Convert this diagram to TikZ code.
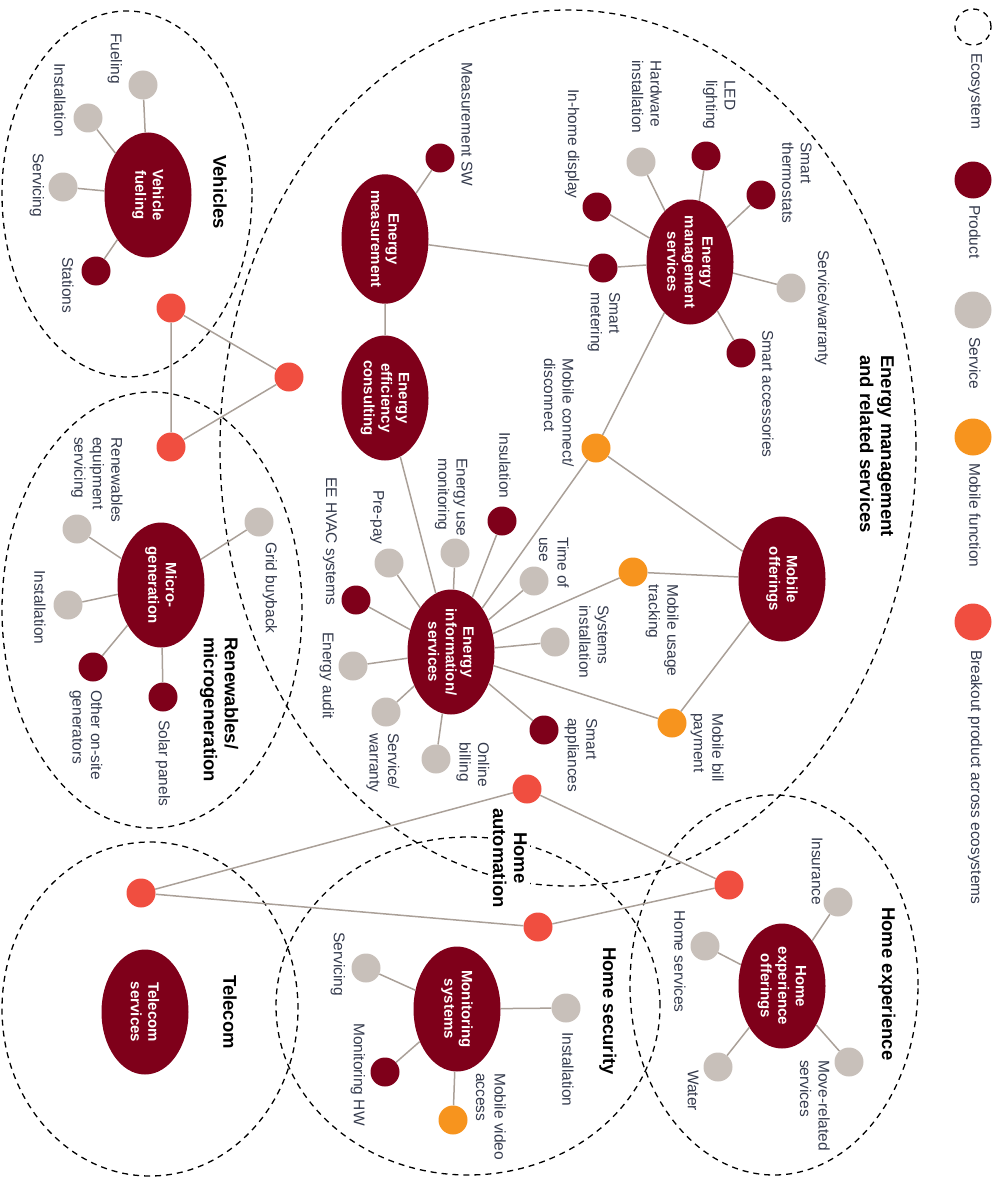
\documentclass[tikz,border=0pt]{standalone}
\usepackage{fontspec}
\setmainfont{Liberation Sans}
\usetikzlibrary{shapes.geometric}
\definecolor{hubred}{RGB}{127,0,26}
\definecolor{servgray}{RGB}{200,192,186}
\definecolor{mobor}{RGB}{247,148,30}
\definecolor{brkred}{RGB}{240,78,64}
\definecolor{edgegray}{RGB}{170,160,152}
\definecolor{lbltxt}{RGB}{52,58,76}
\tikzstyle{hubnode} = [ellipse, fill=hubred, text=white, rotate=-90, minimum width=125pt, minimum height=87pt, inner sep=-3pt, align=center, font=\bfseries\fontsize{15}{17.5}\selectfont]
\tikzstyle{dotnode} = [circle, minimum size=29pt, inner sep=0pt]
\tikzstyle{proddot} = [dotnode, fill=hubred]
\tikzstyle{servdot} = [dotnode, fill=servgray]
\tikzstyle{mobdot} = [dotnode, fill=mobor]
\tikzstyle{brkdot} = [dotnode, fill=brkred]
\tikzstyle{lbltext} = [rotate=-90, anchor=west, inner sep=0pt, align=left, text=lbltxt, font=\fontsize{15.5}{18.5}\selectfont]
\tikzstyle{ttltext} = [rotate=-90, anchor=west, inner sep=0pt, align=left, font=\bfseries\fontsize{18.5}{21}\selectfont]
\tikzstyle{ecoline} = [dash pattern=on 6pt off 5pt, line width=1.3pt]
\tikzstyle{edgeline} = [draw=edgegray, line width=1.5pt]

\begin{document}
\begin{tikzpicture}[x=1pt, y=-1pt]
\useasboundingbox (0,0) rectangle (999,1180);

\draw[ecoline] (127,194) ellipse [x radius=125pt, y radius=183pt];
\draw[ecoline] (568,448) ellipse [x radius=348pt, y radius=438pt];
\draw[ecoline] (152,610) ellipse [x radius=150pt, y radius=218pt];
\draw[ecoline] (150,1009) ellipse [x radius=148pt, y radius=167pt];
\draw[ecoline] (468,1006) ellipse [x radius=192pt, y radius=169pt];
\draw[ecoline] (774,985) ellipse [x radius=144pt, y radius=190pt];

\node[hubnode] (vfuel) at (148,195) {Vehicle\\fueling};
\node[servdot] (fuel) at (143,85) {};
\node[servdot] (vinst) at (88,118) {};
\node[servdot] (vserv) at (63,187) {};
\node[proddot] (stat) at (96,271) {};
\node[lbltext] (fuell) at (115,33) {Fueling};
\node[lbltext] (vinstl) at (60,63) {Installation};
\node[lbltext] (vservl) at (37,153) {Servicing};
\node[lbltext] (statl) at (68,257) {Stations};
\node[ttltext] (vehttl) at (220,155) {Vehicles};

\node[brkdot] (brka) at (171,308) {};
\node[brkdot] (brkb) at (289,377) {};
\node[brkdot] (brkc) at (171,447) {};

\node[hubnode] (emeas) at (385,239) {Energy\\measurement};
\node[hubnode] (econs) at (385,398) {Energy\\efficiency\\consulting};
\node[hubnode] (emgmt) at (690,262) {Energy\\management\\services};
\node[hubnode] (mobo) at (782,579) {Mobile\\offerings};
\node[hubnode] (einfo) at (451,652) {Energy\\information/\\services};

\node[proddot] (msw) at (440,158) {};
\node[servdot] (hwinst) at (641,162) {};
\node[proddot] (led) at (706,156) {};
\node[proddot] (thermo) at (761,195) {};
\node[servdot] (swarr) at (791,288) {};
\node[proddot] (sacc) at (741,353) {};
\node[proddot] (ihd) at (597,207) {};
\node[proddot] (smeter) at (603,268) {};
\node[mobdot] (mconn) at (596,448) {};
\node[mobdot] (musage) at (633,572) {};
\node[mobdot] (mbill) at (672,723) {};
\node[proddot] (insul) at (502,521) {};
\node[servdot] (euse) at (455,553) {};
\node[servdot] (prepay) at (389,563) {};
\node[proddot] (hvac) at (356,600) {};
\node[servdot] (audit) at (353,666) {};
\node[servdot] (iwarr) at (386,712) {};
\node[servdot] (obill) at (436,759) {};
\node[proddot] (sapp) at (544,730) {};
\node[servdot] (sinst) at (555,642) {};
\node[servdot] (tou) at (534,581) {};

\node[lbltext] (mswl) at (467,62) {Measurement SW};
\node[lbltext] (hwinstl) at (647,60) {Hardware\\installation};
\node[lbltext] (ledl) at (719,80) {LED\\lighting};
\node[lbltext] (thermol) at (797,142) {Smart\\thermostats};
\node[lbltext] (swarrl) at (822,250) {Service/warranty};
\node[lbltext] (saccl) at (768,330) {Smart accessories};
\node[lbltext] (ihdl) at (572,89) {In-home display};
\node[lbltext] (smeterl) at (604,292) {Smart\\metering};
\node[lbltext] (mconnl) at (559,358) {Mobile connect/\\disconnect};
\node[lbltext] (musagel) at (662,584) {Mobile usage\\tracking};
\node[lbltext] (mbilll) at (707,713) {Mobile bill\\payment};
\node[lbltext] (insull) at (505,432) {Insulation};
\node[lbltext] (eusel) at (451,458) {Energy use\\monitoring};
\node[lbltext] (prepayl) at (377,490) {Pre-pay};
\node[lbltext] (hvacl) at (330,477) {EE HVAC systems};
\node[lbltext] (auditl) at (327,632) {Energy audit};
\node[lbltext] (iwarrl) at (383,733) {Service/\\warranty};
\node[lbltext] (obilll) at (473,742) {Online\\billing};
\node[lbltext] (sappl) at (581,718) {Smart\\appliances};
\node[lbltext] (sinstl) at (594,605) {Systems\\installation};
\node[lbltext] (toul) at (554,537) {Time of\\use};
\node[ttltext] (enttl) at (877,355) {Energy management\\and related services};

\node[hubnode] (micro) at (161,585) {Micro-\\generation};
\node[servdot] (rserv) at (77,529) {};
\node[servdot] (rinst) at (68,605) {};
\node[proddot] (onsite) at (93,667) {};
\node[proddot] (solar) at (163,697) {};
\node[servdot] (grid) at (259,522) {};
\node[lbltext] (rservl) at (97,437) {Renewables\\equipment\\servicing};
\node[lbltext] (rinstl) at (40,570) {Installation};
\node[lbltext] (onsitel) at (86,690) {Other on-site\\generators};
\node[lbltext] (solarl) at (163,720) {Solar panels};
\node[lbltext] (gridl) at (270,542) {Grid buyback};
\node[ttltext] (renttl) at (219,637) {Renewables/\\microgeneration};

\node[hubnode] (tcom) at (145,1012) {Telecom\\services};
\node[ttltext] (tcomttl) at (230,975) {Telecom};

\node[brkdot] (brkd) at (527,789) {};
\node[brkdot] (brke) at (538,927) {};
\node[brkdot] (brkf) at (729,885) {};
\node[brkdot] (brkg) at (141,893) {};
\node[ttltext, anchor=center, align=center, fill=white, inner sep=3pt] (hautttl) at (510,858) {Home\\automation};

\node[hubnode] (monsys) at (457,1009) {Monitoring\\systems};
\node[servdot] (hserv) at (366,968) {};
\node[proddot] (monhw) at (385,1072) {};
\node[mobdot] (mvideo) at (453,1120) {};
\node[servdot] (hinst) at (566,1008) {};
\node[lbltext] (hservl) at (338,932) {Servicing};
\node[lbltext] (monhwl) at (358,1023) {Monitoring HW};
\node[lbltext] (mvideol) at (491,1073) {Mobile video\\access};
\node[lbltext] (hinstl) at (568,1032) {Installation};
\node[ttltext] (hsecttl) at (608,947) {Home security};

\node[hubnode] (hexp) at (782,986) {Home\\experience\\offerings};
\node[servdot] (insur) at (838,902) {};
\node[servdot] (hsvc) at (705,946) {};
\node[servdot] (water) at (718,1067) {};
\node[servdot] (move) at (849,1062) {};
\node[lbltext] (insurl) at (817,837) {Insurance};
\node[lbltext] (hsvcl) at (680,910) {Home services};
\node[lbltext] (waterl) at (693,1070) {Water};
\node[lbltext] (movel) at (815,1060) {Move-related\\services};
\node[ttltext] (hexpttl) at (887,907) {Home experience};

\node[ecoline, draw, circle, minimum size=36pt, inner sep=0pt] (legeco) at (973,27) {};
\node[proddot, minimum size=37pt] (legprod) at (973,180) {};
\node[servdot, minimum size=37pt] (legserv) at (973,310) {};
\node[mobdot, minimum size=37pt] (legmob) at (973,437) {};
\node[brkdot, minimum size=37pt] (legbrk) at (973,622) {};
\node[lbltext] (legecol) at (975,53) {Ecosystem};
\node[lbltext] (legprodl) at (975,205) {Product};
\node[lbltext] (legservl) at (975,337) {Service};
\node[lbltext] (legmobl) at (975,463) {Mobile function};
\node[lbltext] (legbrkl) at (975,650) {Breakout product across ecosystems};

\draw[edgeline] (vfuel) -- (fuel) (vfuel) -- (vinst) (vfuel) -- (vserv) (vfuel) -- (stat);
\draw[edgeline] (brka) -- (brkb) (brka) -- (brkc) (brkb) -- (brkc);
\draw[edgeline] (emeas) -- (msw) (emeas) -- (smeter) (emeas) -- (econs);
\draw[edgeline] (emgmt) -- (hwinst) (emgmt) -- (led) (emgmt) -- (thermo) (emgmt) -- (swarr)
    (emgmt) -- (sacc) (emgmt) -- (ihd) (emgmt) -- (smeter) (emgmt) -- (mconn);
\draw[edgeline] (mconn) -- (mobo) (mconn) -- (einfo) (mobo) -- (musage) (mobo) -- (mbill);
\draw[edgeline] (einfo) -- (insul) (einfo) -- (euse) (einfo) -- (prepay) (einfo) -- (hvac)
    (einfo) -- (audit) (einfo) -- (iwarr) (einfo) -- (obill) (einfo) -- (sapp)
    (einfo) -- (sinst) (einfo) -- (tou) (einfo) -- (musage) (einfo) -- (mbill) (einfo) -- (econs);
\draw[edgeline] (micro) -- (rserv) (micro) -- (rinst) (micro) -- (onsite) (micro) -- (solar) (micro) -- (grid);
\draw[edgeline] (brkg) -- (brkd) (brkg) -- (brke) (brkd) -- (brkf) (brke) -- (brkf);
\draw[edgeline] (monsys) -- (hserv) (monsys) -- (monhw) (monsys) -- (mvideo) (monsys) -- (hinst);
\draw[edgeline] (hexp) -- (insur) (hexp) -- (hsvc) (hexp) -- (water) (hexp) -- (move);
\end{tikzpicture}
\end{document}
